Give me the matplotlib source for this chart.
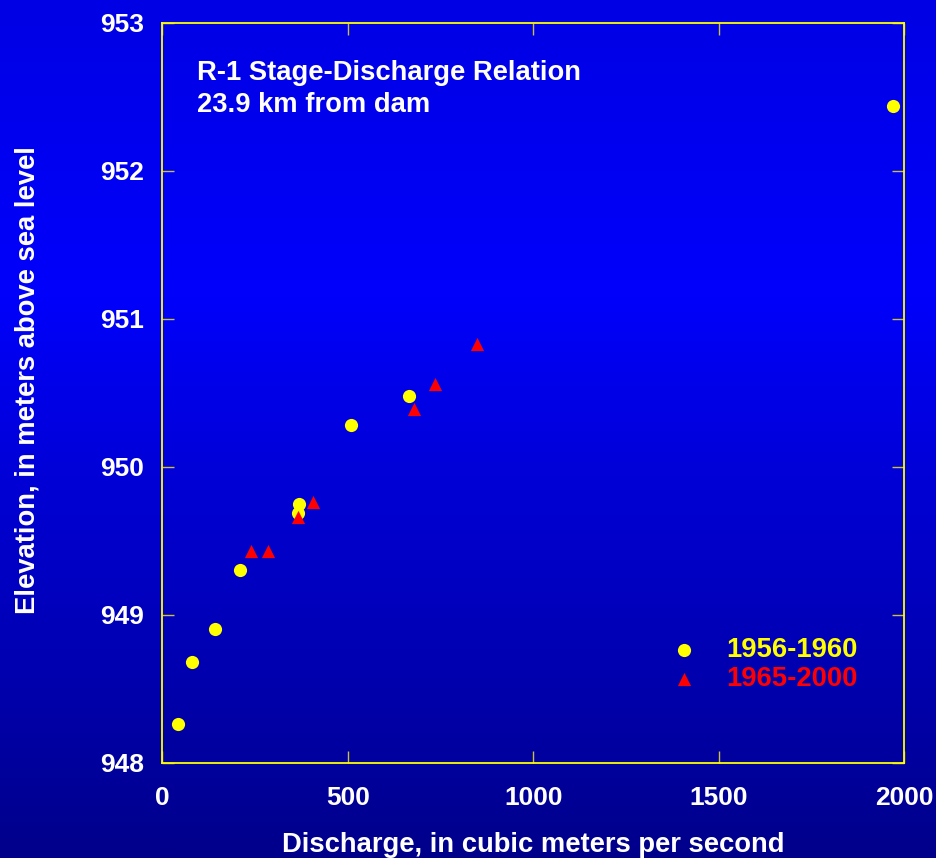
import numpy as np
from matplotlib import pyplot as plt

plt.rcParams['font.family'] = ['Liberation Sans', 'DejaVu Sans']
plt.rcParams['font.weight'] = 'bold'

# 1956-1960 survey
q_early = [43, 81, 143, 210, 366, 369, 509, 665, 1970]
z_early = [948.26, 948.68, 948.90, 949.30, 949.69, 949.75, 950.28, 950.48, 952.44]

# 1965-2000 survey
q_late = [238, 286, 367, 405, 679, 735, 849]
z_late = [949.43, 949.43, 949.66, 949.76, 950.39, 950.56, 950.83]

x_ticks = [0, 500, 1000, 1500, 2000]
y_ticks = [948, 949, 950, 951, 952, 953]

fig = plt.figure(figsize=(9.37, 8.58), dpi=100)

# blue gradient backdrop
bg = fig.add_axes([0, 0, 1, 1], zorder=-1)
stops_y = [0.0, 0.34, 1.0]
stops_b = [228, 252, 138]
yy = np.linspace(0, 1, 400)
blue = np.interp(yy, stops_y, stops_b) / 255.0
grad = np.zeros((400, 1, 3))
grad[:, 0, 2] = blue
bg.imshow(grad, aspect='auto', extent=[0, 1, 1, 0])
bg.set_axis_off()

ax = fig.add_axes([0.1732, 0.1111, 0.7919, 0.8624])
ax.set_facecolor('none')

ax.scatter(q_early, z_early, s=90, marker='o', color='#ffff00', linewidths=0,
           label='1956-1960', zorder=3)
ax.scatter(q_late, z_late, s=90, marker='^', color='#ff0000', linewidths=0,
           label='1965-2000', zorder=3)

ax.set_xlim(0, 2000)
ax.set_ylim(948, 953)
ax.set_xticks(x_ticks)
ax.set_yticks(y_ticks)

for s in ax.spines.values():
    s.set_color('#ffff00')
    s.set_linewidth(1.3)

ax.tick_params(direction='in', length=8.6, width=1, color='#c8c040',
               top=True, right=True, labelsize=19, labelcolor='white')
ax.tick_params(axis='x', pad=17)
ax.tick_params(axis='y', pad=13)

ax.set_xlabel('Discharge, in cubic meters per second', fontsize=19.7,
              color='white', fontweight='bold')
ax.set_ylabel('Elevation, in meters above sea level', fontsize=19.7,
              color='white', fontweight='bold')
ax.xaxis.set_label_coords(0.5, -0.094)
ax.yaxis.set_label_coords(-0.164, 0.517)

ax.text(0.0464, 0.9226, 'R-1 Stage-Discharge Relation', transform=ax.transAxes,
        fontsize=19.7, color='white', fontweight='bold', va='baseline')
ax.text(0.0464, 0.8789, '23.9 km from dam', transform=ax.transAxes,
        fontsize=19.7, color='white', fontweight='bold', va='baseline')

leg = ax.legend(loc='upper left', bbox_to_anchor=(0.651, 0.184), frameon=False,
                fontsize=19.7, scatterpoints=1, handletextpad=0.57,
                labelspacing=0.09, borderpad=0.4, borderaxespad=0)
for t, c in zip(leg.get_texts(), ['#ffff00', '#ff0000']):
    t.set_color(c)

fig.savefig('out.png', dpi=100)
